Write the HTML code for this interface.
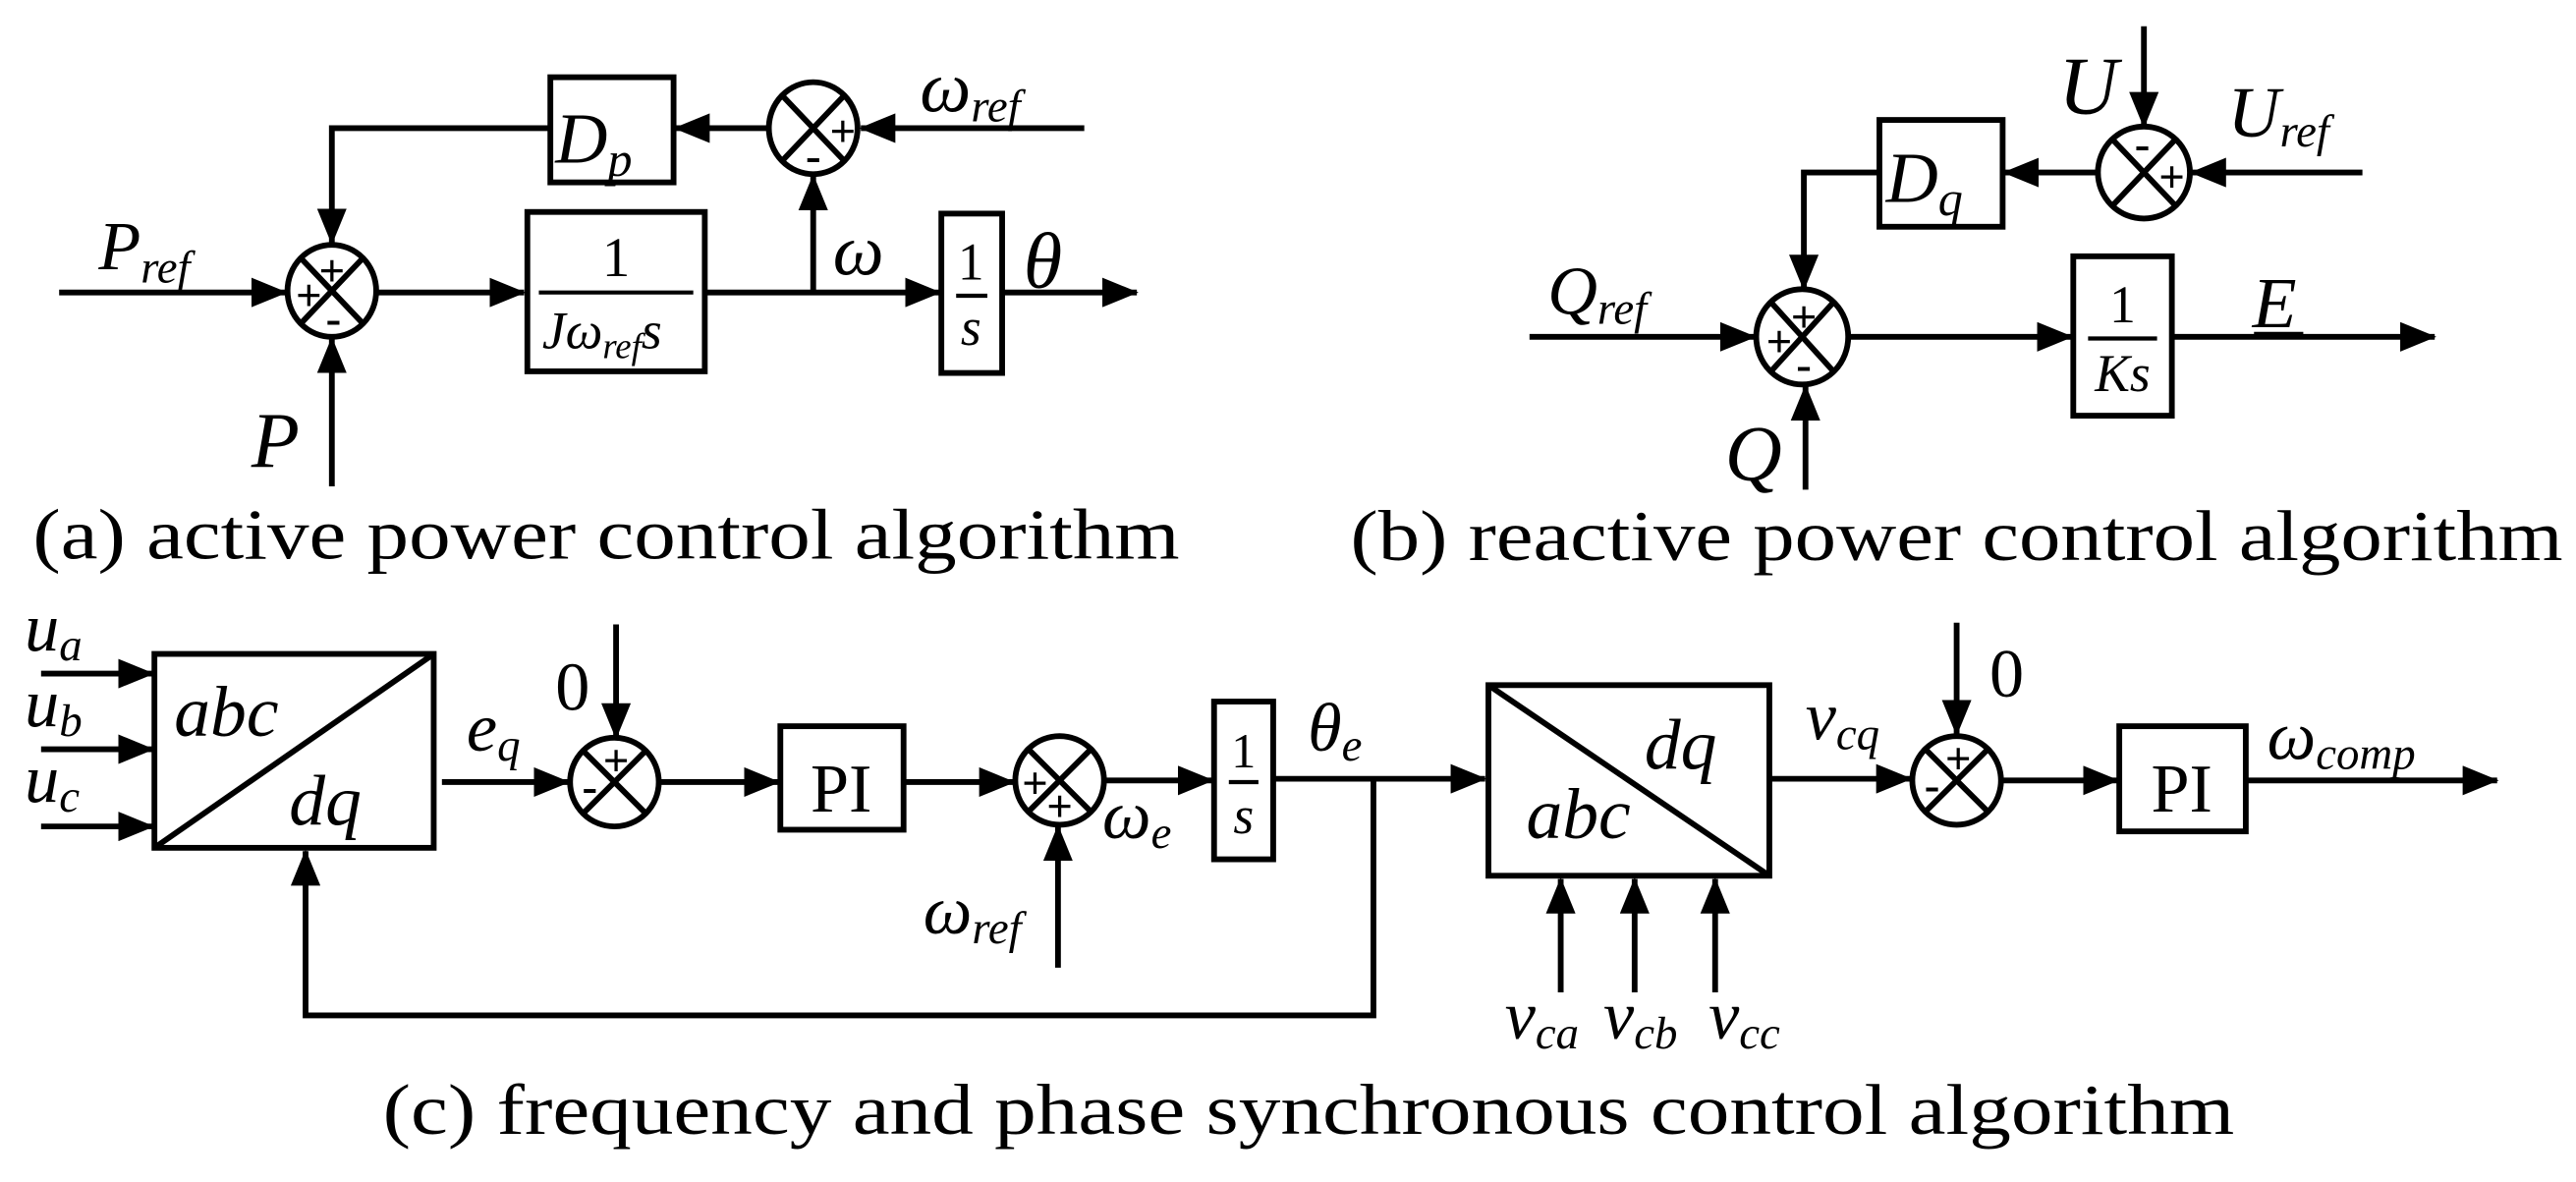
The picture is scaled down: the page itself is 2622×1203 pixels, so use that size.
<!DOCTYPE html>
<html><head><meta charset="utf-8"><style>
html,body{margin:0;padding:0;background:#fff;}
svg{display:block;}
text{font-family:"Liberation Serif","Times New Roman",serif;fill:#000;}
.i{font-style:italic;}
.s{font-family:"Liberation Sans",sans-serif;font-weight:bold;}
</style></head><body>
<svg width="2622" height="1203" viewBox="0 0 1568 719.4" xmlns="http://www.w3.org/2000/svg">
<defs>
<marker id="a" markerWidth="22" markerHeight="18" refX="21" refY="9" orient="auto" markerUnits="userSpaceOnUse"><path d="M0,0 L22,9 L0,18 z" fill="#000"/></marker>
</defs>
<g stroke="#000" stroke-width="3.5" fill="none">
<!-- (a) -->
<line x1="36" y1="178" x2="174" y2="178" marker-end="url(#a)"/>
<ellipse cx="202" cy="177" rx="27" ry="28" fill="#fff"/>
<line x1="183" y1="157" x2="221" y2="197"/><line x1="221" y1="157" x2="183" y2="197"/>
<line x1="229" y1="178" x2="319" y2="178" marker-end="url(#a)"/>
<rect x="321" y="129" width="108" height="97"/>
<line x1="429" y1="178" x2="572" y2="178" marker-end="url(#a)"/>
<line x1="495" y1="178" x2="495" y2="107" marker-end="url(#a)"/>
<rect x="573" y="130" width="37" height="97"/>
<line x1="610" y1="178" x2="692" y2="178" marker-end="url(#a)"/>
<ellipse cx="495" cy="78" rx="27" ry="28" fill="#fff"/>
<line x1="476" y1="58" x2="514" y2="98"/><line x1="514" y1="58" x2="476" y2="98"/>
<line x1="660" y1="78" x2="524" y2="78" marker-end="url(#a)"/>
<line x1="468" y1="78" x2="411" y2="78" marker-end="url(#a)"/>
<rect x="335" y="47" width="75" height="64"/>
<polyline points="335,78 202,78 202,148" marker-end="url(#a)"/>
<line x1="202" y1="296" x2="202" y2="206" marker-end="url(#a)"/>
<!-- (b) -->
<line x1="931" y1="205" x2="1068" y2="205" marker-end="url(#a)"/>
<ellipse cx="1097" cy="205" rx="28" ry="29" fill="#fff"/>
<line x1="1078" y1="184" x2="1116" y2="226"/><line x1="1116" y1="184" x2="1078" y2="226"/>
<line x1="1125" y1="205" x2="1261" y2="205" marker-end="url(#a)"/>
<rect x="1262" y="156" width="60" height="97"/>
<line x1="1322" y1="205" x2="1482" y2="205" marker-end="url(#a)"/>
<line x1="1099" y1="298" x2="1099" y2="235" marker-end="url(#a)"/>
<ellipse cx="1305" cy="105" rx="28" ry="28" fill="#fff"/>
<line x1="1286" y1="85" x2="1324" y2="125"/><line x1="1324" y1="85" x2="1286" y2="125"/>
<line x1="1438" y1="105" x2="1334" y2="105" marker-end="url(#a)"/>
<line x1="1305" y1="16" x2="1305" y2="77" marker-end="url(#a)"/>
<line x1="1277" y1="105" x2="1220" y2="105" marker-end="url(#a)"/>
<rect x="1144" y="73" width="75" height="65"/>
<polyline points="1144,105 1098,105 1098,176" marker-end="url(#a)"/>
<!-- (c) -->
<line x1="25" y1="410" x2="93" y2="410" marker-end="url(#a)"/>
<line x1="25" y1="456" x2="93" y2="456" marker-end="url(#a)"/>
<line x1="25" y1="503" x2="93" y2="503" marker-end="url(#a)"/>
<rect x="94" y="398" width="170" height="118"/>
<line x1="94" y1="516" x2="264" y2="398"/>
<line x1="269" y1="476" x2="346" y2="476" marker-end="url(#a)"/>
<ellipse cx="374" cy="476" rx="27" ry="27" fill="#fff"/>
<line x1="355" y1="457" x2="393" y2="495"/><line x1="393" y1="457" x2="355" y2="495"/>
<line x1="375" y1="380" x2="375" y2="449" marker-end="url(#a)"/>
<line x1="401" y1="476" x2="474" y2="476" marker-end="url(#a)"/>
<rect x="475" y="442" width="75" height="63"/>
<line x1="550" y1="476" x2="617" y2="476" marker-end="url(#a)"/>
<ellipse cx="645" cy="475" rx="27" ry="27" fill="#fff"/>
<line x1="626" y1="456" x2="664" y2="494"/><line x1="664" y1="456" x2="626" y2="494"/>
<line x1="644" y1="589" x2="644" y2="503" marker-end="url(#a)"/>
<line x1="672" y1="475" x2="738" y2="475" marker-end="url(#a)"/>
<rect x="739" y="427" width="36" height="96"/>
<line x1="775" y1="474" x2="904" y2="474" marker-end="url(#a)"/>
<polyline points="836,474 836,618 186,618 186,518" marker-end="url(#a)"/>
<rect x="906" y="417" width="171" height="116"/>
<line x1="906" y1="417" x2="1077" y2="533"/>
<line x1="1077" y1="474" x2="1163" y2="474" marker-end="url(#a)"/>
<ellipse cx="1191" cy="475" rx="27" ry="27" fill="#fff"/>
<line x1="1172" y1="456" x2="1210" y2="494"/><line x1="1210" y1="456" x2="1172" y2="494"/>
<line x1="1191" y1="379" x2="1191" y2="447" marker-end="url(#a)"/>
<line x1="1219" y1="475" x2="1289" y2="475" marker-end="url(#a)"/>
<rect x="1290" y="442" width="77" height="64"/>
<line x1="1367" y1="475" x2="1520" y2="475" marker-end="url(#a)"/>
<line x1="950" y1="604" x2="950" y2="535" marker-end="url(#a)"/>
<line x1="995" y1="604" x2="995" y2="535" marker-end="url(#a)"/>
<line x1="1044" y1="604" x2="1044" y2="535" marker-end="url(#a)"/>
<!-- fraction bars -->
<line x1="328" y1="178" x2="422" y2="178" stroke-width="2.5"/>
<line x1="582" y1="180" x2="601" y2="180" stroke-width="2.5"/>
<line x1="1271" y1="206" x2="1313" y2="206" stroke-width="2.5"/>
<line x1="748" y1="476" x2="766" y2="476" stroke-width="2.5"/>
</g>
<!-- signs -->
<g class="s" font-size="28" text-anchor="middle">
<text x="202" y="174">+</text><text x="188" y="189">+</text><text x="203" y="203">-</text>
<text x="513" y="89">+</text><text x="495" y="104">-</text>
<text x="1098" y="202">+</text><text x="1083" y="217">+</text><text x="1098" y="231">-</text>
<text x="1304" y="97">-</text><text x="1322" y="117">+</text>
<text x="375" y="472">+</text><text x="359" y="488">-</text>
<text x="630" y="486">+</text><text x="645" y="500">+</text>
<text x="1192" y="471">+</text><text x="1176" y="487">-</text>
</g>
<!-- labels (a) -->
<text class="i" x="60" y="164" font-size="42">P<tspan font-size="28" dy="8">ref</tspan></text>
<text class="i" x="153" y="284" font-size="48">P</text>
<text x="375" y="168" font-size="34" text-anchor="middle">1</text>
<text class="i" x="330" y="212" font-size="32">J<tspan>ω</tspan><tspan font-size="22" dy="6">ref</tspan><tspan dy="-6">s</tspan></text>
<text x="591" y="170" font-size="32" text-anchor="middle">1</text>
<text class="i" x="591" y="210" font-size="32" text-anchor="middle">s</text>
<text class="i" x="338" y="99" font-size="44">D<tspan font-size="30" dy="8">p</tspan></text>
<text class="i" x="560" y="68" font-size="44">ω<tspan font-size="28" dy="6">ref</tspan></text>
<text class="i" x="507" y="167" font-size="44">ω</text>
<text class="i" x="623" y="175" font-size="48">θ</text>
<text x="20" y="340" font-size="44" textLength="698" lengthAdjust="spacingAndGlyphs">(a) active power control algorithm</text>
<!-- labels (b) -->
<text class="i" x="942" y="191" font-size="42">Q<tspan font-size="28" dy="6">ref</tspan></text>
<text class="i" x="1050" y="292" font-size="48">Q</text>
<text x="1292" y="196" font-size="32" text-anchor="middle">1</text>
<text class="i" x="1292" y="238" font-size="32" text-anchor="middle">Ks</text>
<text class="i" x="1371" y="199" font-size="44">E</text>
<line x1="1372" y1="203" x2="1402" y2="203" stroke="#000" stroke-width="2"/>
<text class="i" x="1148" y="123" font-size="44">D<tspan font-size="30" dy="8">q</tspan></text>
<text class="i" x="1253" y="69" font-size="50">U</text>
<text class="i" x="1356" y="83" font-size="44">U<tspan font-size="28" dy="6">ref</tspan></text>
<text x="822" y="341" font-size="44" textLength="738" lengthAdjust="spacingAndGlyphs">(b) reactive power control algorithm</text>
<!-- labels (c) -->
<text class="i" x="15" y="396" font-size="42">u<tspan font-size="28" dy="6">a</tspan></text>
<text class="i" x="15" y="442" font-size="42">u<tspan font-size="28" dy="6">b</tspan></text>
<text class="i" x="15" y="488" font-size="42">u<tspan font-size="28" dy="6">c</tspan></text>
<text class="i" x="106" y="448" font-size="44">abc</text>
<text class="i" x="176" y="502" font-size="44">dq</text>
<text class="i" x="284" y="457" font-size="42">e<tspan font-size="28" dy="6">q</tspan></text>
<text x="338" y="432" font-size="42">0</text>
<text x="512" y="494" font-size="42" text-anchor="middle">PI</text>
<text class="i" x="671" y="510" font-size="42">ω<tspan font-size="28" dy="6">e</tspan></text>
<text x="757" y="467" font-size="30" text-anchor="middle">1</text>
<text class="i" x="757" y="507" font-size="32" text-anchor="middle">s</text>
<text class="i" x="796" y="457" font-size="42">θ<tspan font-size="28" dy="6">e</tspan></text>
<text class="i" x="562" y="568" font-size="42">ω<tspan font-size="28" dy="6">ref</tspan></text>
<text class="i" x="1001" y="468" font-size="44">dq</text>
<text class="i" x="929" y="510" font-size="44">abc</text>
<text class="i" x="1099" y="450" font-size="42">v<tspan font-size="28" dy="6">cq</tspan></text>
<text x="1211" y="424" font-size="42">0</text>
<text x="1328" y="494" font-size="42" text-anchor="middle">PI</text>
<text class="i" x="1380" y="462" font-size="42">ω<tspan font-size="28" dy="6">comp</tspan></text>
<text class="i" x="916" y="632" font-size="42">v<tspan font-size="28" dy="6">ca</tspan></text>
<text class="i" x="976" y="632" font-size="42">v<tspan font-size="28" dy="6">cb</tspan></text>
<text class="i" x="1040" y="632" font-size="42">v<tspan font-size="28" dy="6">cc</tspan></text>
<text x="233" y="690" font-size="44" textLength="1127" lengthAdjust="spacingAndGlyphs">(c) frequency and phase  synchronous control algorithm</text>
</svg>
</body></html>
